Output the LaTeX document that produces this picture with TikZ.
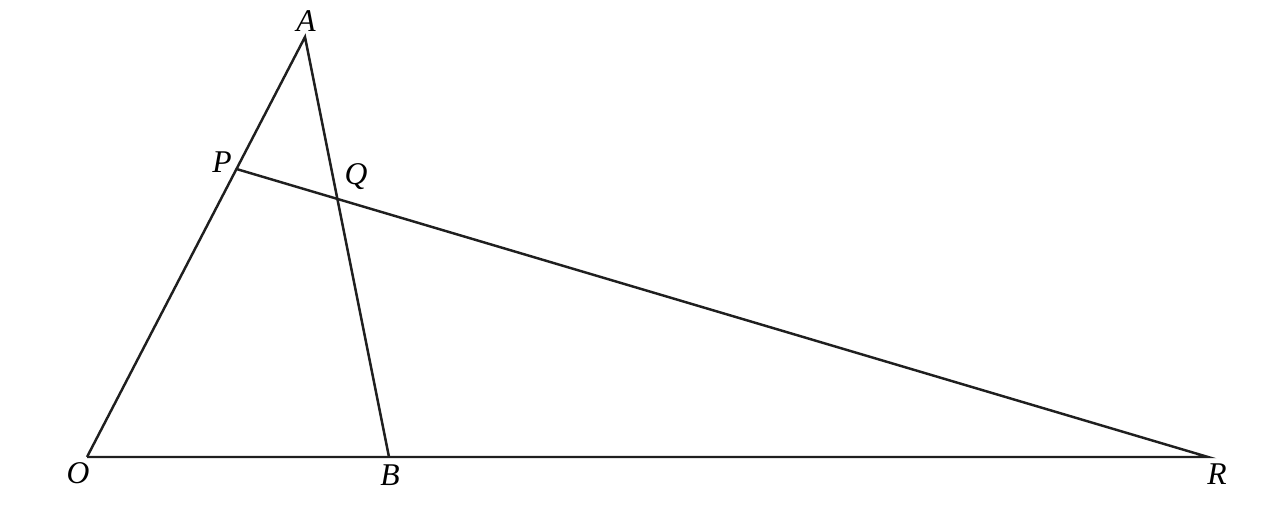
\documentclass[tikz,border=0pt]{standalone}
\usepackage{fontspec}
\setmainfont{Liberation Serif}
\usepackage{tikz}
\usetikzlibrary{arrows,calc}

\begin{document}
\begin{tikzpicture}[line width=1.4pt, lbl/.style={font=\fontsize{18}{21}\selectfont\itshape, inner sep=0pt}]
    \useasboundingbox (0,0) rectangle (25.62,10.36);
    \coordinate (O) at (1.74,1.22);
    \coordinate (A) at (6.10,9.62);
    \coordinate (B) at (7.78,1.22);
    \coordinate (R) at (24.16,1.22);
    \coordinate (P) at ($(O)!0.6857!(A)$);
    \coordinate (Q) at (intersection of P--R and A--B);

    \draw[black!88] (O) -- (A) -- (B);
    \draw[black!88] (O) -- (R) -- (P);

    \node[lbl] (lA) at (6.12,9.93) {A};
    \node[lbl] (lO) at (1.56,0.90) {O};
    \node[lbl] (lB) at (7.80,0.86) {B};
    \node[lbl] (lR) at (24.34,0.88) {R};
    \node[lbl] (lP) at (4.44,7.12) {P};
    \node[lbl] (lQ) at (7.12,6.82) {Q};
\end{tikzpicture}
\end{document}
